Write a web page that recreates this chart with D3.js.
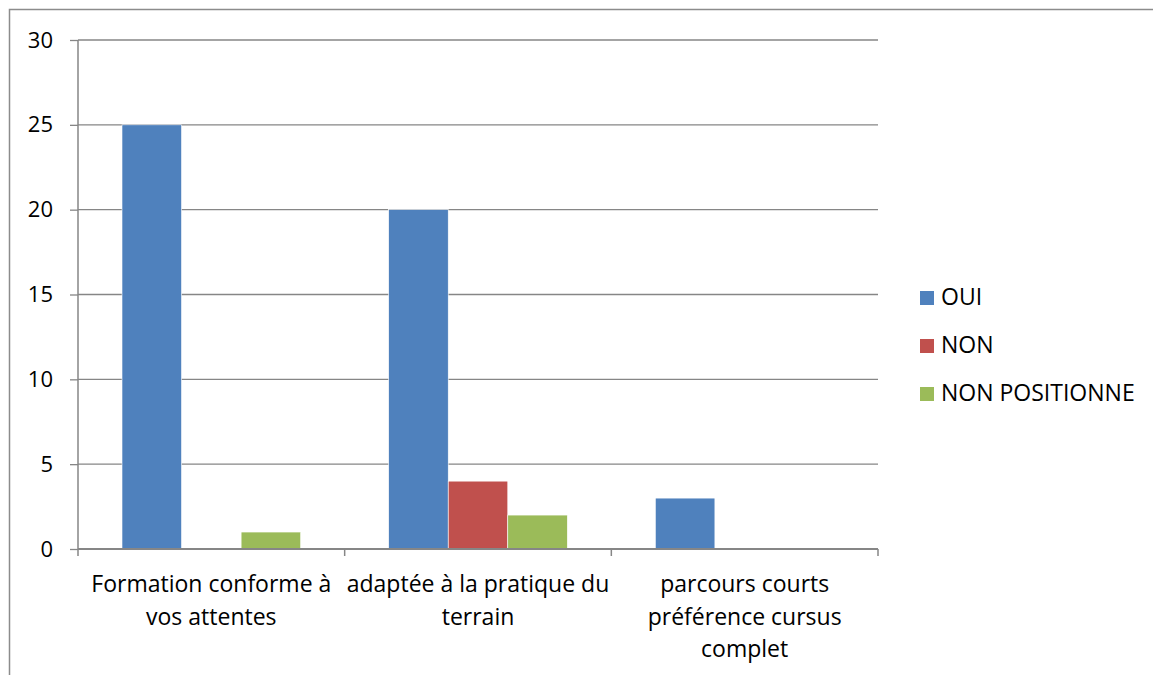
<!DOCTYPE html>
<html><head><meta charset="utf-8">
<script src="https://cdn.jsdelivr.net/npm/d3@7"></script>
<style>body{margin:0;background:#fff}svg{display:block}</style>
</head><body>
<script>
const categories = [["Formation conforme à","vos attentes"],["adaptée à la pratique du","terrain"],["parcours courts","préférence cursus","complet"]];
const seriesNames = ["OUI","NON","NON POSITIONNE"];
const oui = [25,20,3];
const non = [0,4,0];
const nonPos = [1,2,0];
const yTicks = [0,5,10,15,20,25,30];
const colors = ["#4F81BD","#C0504D","#9BBB59"];

(function(){
const W=1153,H=675;
const svg=d3.select("body").append("svg").attr("width",W).attr("height",H);
const font="'Open Sans', sans-serif";
const fs=23;
svg.append("rect").attr("x",9.5).attr("y",9.5).attr("width",W+20).attr("height",H+20).attr("fill","none").attr("stroke","#8c8c8c").attr("stroke-width",1.5);

const pLeft=78,pRight=878,pTop=40,pBottom=549;
const x=d3.scaleBand().domain(d3.range(categories.length)).range([pLeft,pRight]).paddingInner(0).paddingOuter(0);
const inner=d3.scaleBand().domain(d3.range(seriesNames.length)).range([44,x.bandwidth()-44]);
const y=d3.scaleLinear().domain([0,30]).range([pBottom,pTop]);

svg.append("g").selectAll("line").data(yTicks.filter(d=>d>0)).join("line")
 .attr("x1",pLeft).attr("x2",pRight).attr("y1",d=>y(d)).attr("y2",d=>y(d))
 .attr("stroke","#868686").attr("stroke-width",1.3);

const data=[oui,non,nonPos];
const g=svg.append("g");
data.forEach((vals,si)=>{
  g.selectAll(null).data(vals).join("rect")
   .attr("x",(d,i)=>x(i)+inner(si)).attr("width",inner.bandwidth())
   .attr("y",d=>y(d)).attr("height",d=>y(0)-y(d))
   .attr("fill",colors[si]).attr("stroke",d=>d>0?"#ffffff":"none").attr("stroke-width",0.6);
});

const ya=svg.append("g").attr("transform",`translate(${pLeft},0)`).call(d3.axisLeft(y).tickValues(yTicks).tickSize(8).tickPadding(17));
ya.select(".domain").attr("stroke","#868686").attr("stroke-width",1.5).attr("d",`M0,${pTop}V${pBottom}`);
ya.selectAll(".tick line").attr("stroke","#868686").attr("stroke-width",1.3);
ya.selectAll(".tick text").attr("font-family",font).attr("font-size",22).attr("fill","#000");

const xa=svg.append("g").attr("transform",`translate(0,${pBottom})`);
xa.append("line").attr("x1",pLeft).attr("x2",pRight).attr("stroke","#868686").attr("stroke-width",2);
const bounds=d3.range(categories.length+1).map(i=>i<categories.length?x(i):x(categories.length-1)+x.bandwidth());
xa.selectAll(".t").data(bounds).join("line").attr("x1",d=>d).attr("x2",d=>d).attr("y1",0).attr("y2",7).attr("stroke","#868686").attr("stroke-width",1.5);
categories.forEach((lines,i)=>{
  const t=xa.append("text").attr("text-anchor","middle").attr("font-family",font).attr("font-size",fs).attr("fill","#000");
  lines.forEach((l,j)=>t.append("tspan").attr("x",x(i)+x.bandwidth()/2).attr("y",43+j*32.5).text(l));
});

const lg=svg.append("g");
seriesNames.forEach((n,i)=>{
  lg.append("rect").attr("x",920).attr("y",291+i*48).attr("width",14).attr("height",14).attr("fill",colors[i]);
  lg.append("text").attr("x",941).attr("y",305+i*48).attr("font-family",font).attr("font-size",fs).attr("fill","#000").text(n);
});
})();
</script>
</body></html>
